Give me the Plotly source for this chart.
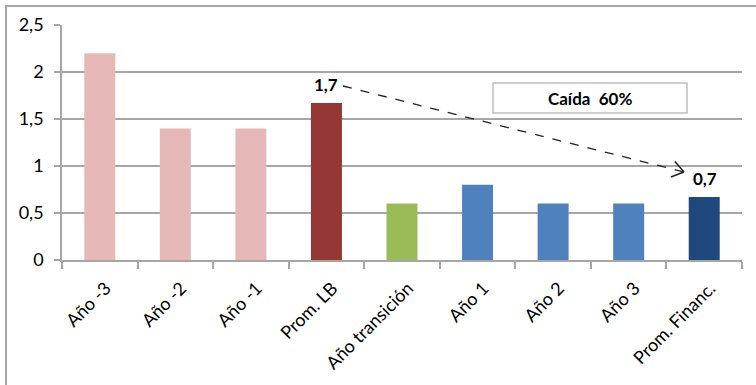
import plotly.graph_objects as go
import math

categories = ["Año -3", "Año -2", "Año -1", "Prom. LB", "Año transición",
              "Año 1", "Año 2", "Año 3", "Prom. Financ."]
values = [2.2, 1.4, 1.4, 1.67, 0.6, 0.8, 0.6, 0.6, 0.67]
colors = ["#E6B9B8", "#E6B9B8", "#E6B9B8", "#953735", "#9BBB59",
          "#4F81BD", "#4F81BD", "#4F81BD", "#1F497D"]
y_ticks = [0, 0.5, 1, 1.5, 2, 2.5]
label_lb = "1,7"
label_fin = "0,7"
box_text = "Caída  60%"

FONT = "Lato, 'Open Sans', sans-serif"
W, H = 756, 385
L, R, T, B = 62, 14, 25, 125
PW, PH = W - L - R, H - T - B

def px(x):  # pixel -> paper x
    return (x - L) / PW

def py(y):  # pixel -> paper y
    return (H - B - y) / PH

fig = go.Figure(go.Bar(
    x=categories, y=values, marker=dict(color=colors, line=dict(width=0)),
    width=0.41, hoverinfo="skip"))

grid = "#A6A6A6"
fig.update_layout(
    width=W, height=H, margin=dict(l=L, r=R, t=T, b=B, autoexpand=False),
    paper_bgcolor="white", plot_bgcolor="white", showlegend=False,
    separators=",.",
    font=dict(family=FONT, size=15, color="#000"),
    xaxis=dict(tickangle=-45, showline=True, linecolor=grid, linewidth=1.5,
               ticks="outside", tickson="boundaries", ticklen=7, tickcolor=grid,
               tickwidth=1.5, tickfont=dict(size=18), showgrid=False,
               ticklabelstandoff=9, ticklabelshift=6, automargin=False),
    yaxis=dict(range=[0, 2.5], tickvals=y_ticks, showline=True, linecolor=grid,
               linewidth=1.5, ticks="outside", ticklen=6, tickcolor=grid,
               tickwidth=1.5, gridcolor=grid, gridwidth=1.5,
               tickfont=dict(size=18), zeroline=False, ticklabelstandoff=7,
               automargin=False),
)

# value labels
fig.add_annotation(x=3, y=1.87, text="<b>%s</b>" % label_lb, showarrow=False,
                   xshift=0, font=dict(size=17), xanchor="center", yanchor="middle")
fig.add_annotation(x=8, y=0.87, text="<b>%s</b>" % label_fin, showarrow=False,
                   xshift=1, font=dict(size=17), xanchor="center", yanchor="middle")

# dashed arrow (pixel-space endpoints converted to paper)
x0, y0, x1, y1 = 343, 86, 684, 172
fig.add_shape(type="line", xref="paper", yref="paper",
              x0=px(x0), y0=py(y0), x1=px(x1), y1=py(y1),
              line=dict(color="#222", width=1.3, dash="dash"))
ang = math.atan2(y1 - y0, x1 - x0)
for d in (math.radians(35), -math.radians(35)):
    a = ang + math.pi + d
    ex, ey = x1 + 14 * math.cos(a), y1 + 14 * math.sin(a)
    fig.add_shape(type="line", xref="paper", yref="paper",
                  x0=px(x1), y0=py(y1), x1=px(ex), y1=py(ey),
                  line=dict(color="#222", width=1.5))

# text box
fig.add_shape(type="rect", xref="paper", yref="paper",
              x0=px(493), y0=py(113), x1=px(687), y1=py(83),
              line=dict(color="#BFBFBF", width=1.5), fillcolor="white")
fig.add_annotation(xref="paper", yref="paper", x=px(590), y=py(98),
                   text="<b>%s</b>" % box_text, showarrow=False,
                   xanchor="center", yanchor="middle", font=dict(size=17))

# chart outer border (left and top edges visible)
fig.add_shape(type="line", xref="paper", yref="paper",
              x0=px(6), y0=py(390), x1=px(6), y1=py(6),
              line=dict(color="#A6A6A6", width=2))
fig.add_shape(type="line", xref="paper", yref="paper",
              x0=px(5), y0=py(6), x1=px(760), y1=py(6),
              line=dict(color="#A6A6A6", width=2))

fig.write_html("out.html", config={"displayModeBar": False},
               post_script="document.body.style.margin='0';document.body.style.padding='0';")
